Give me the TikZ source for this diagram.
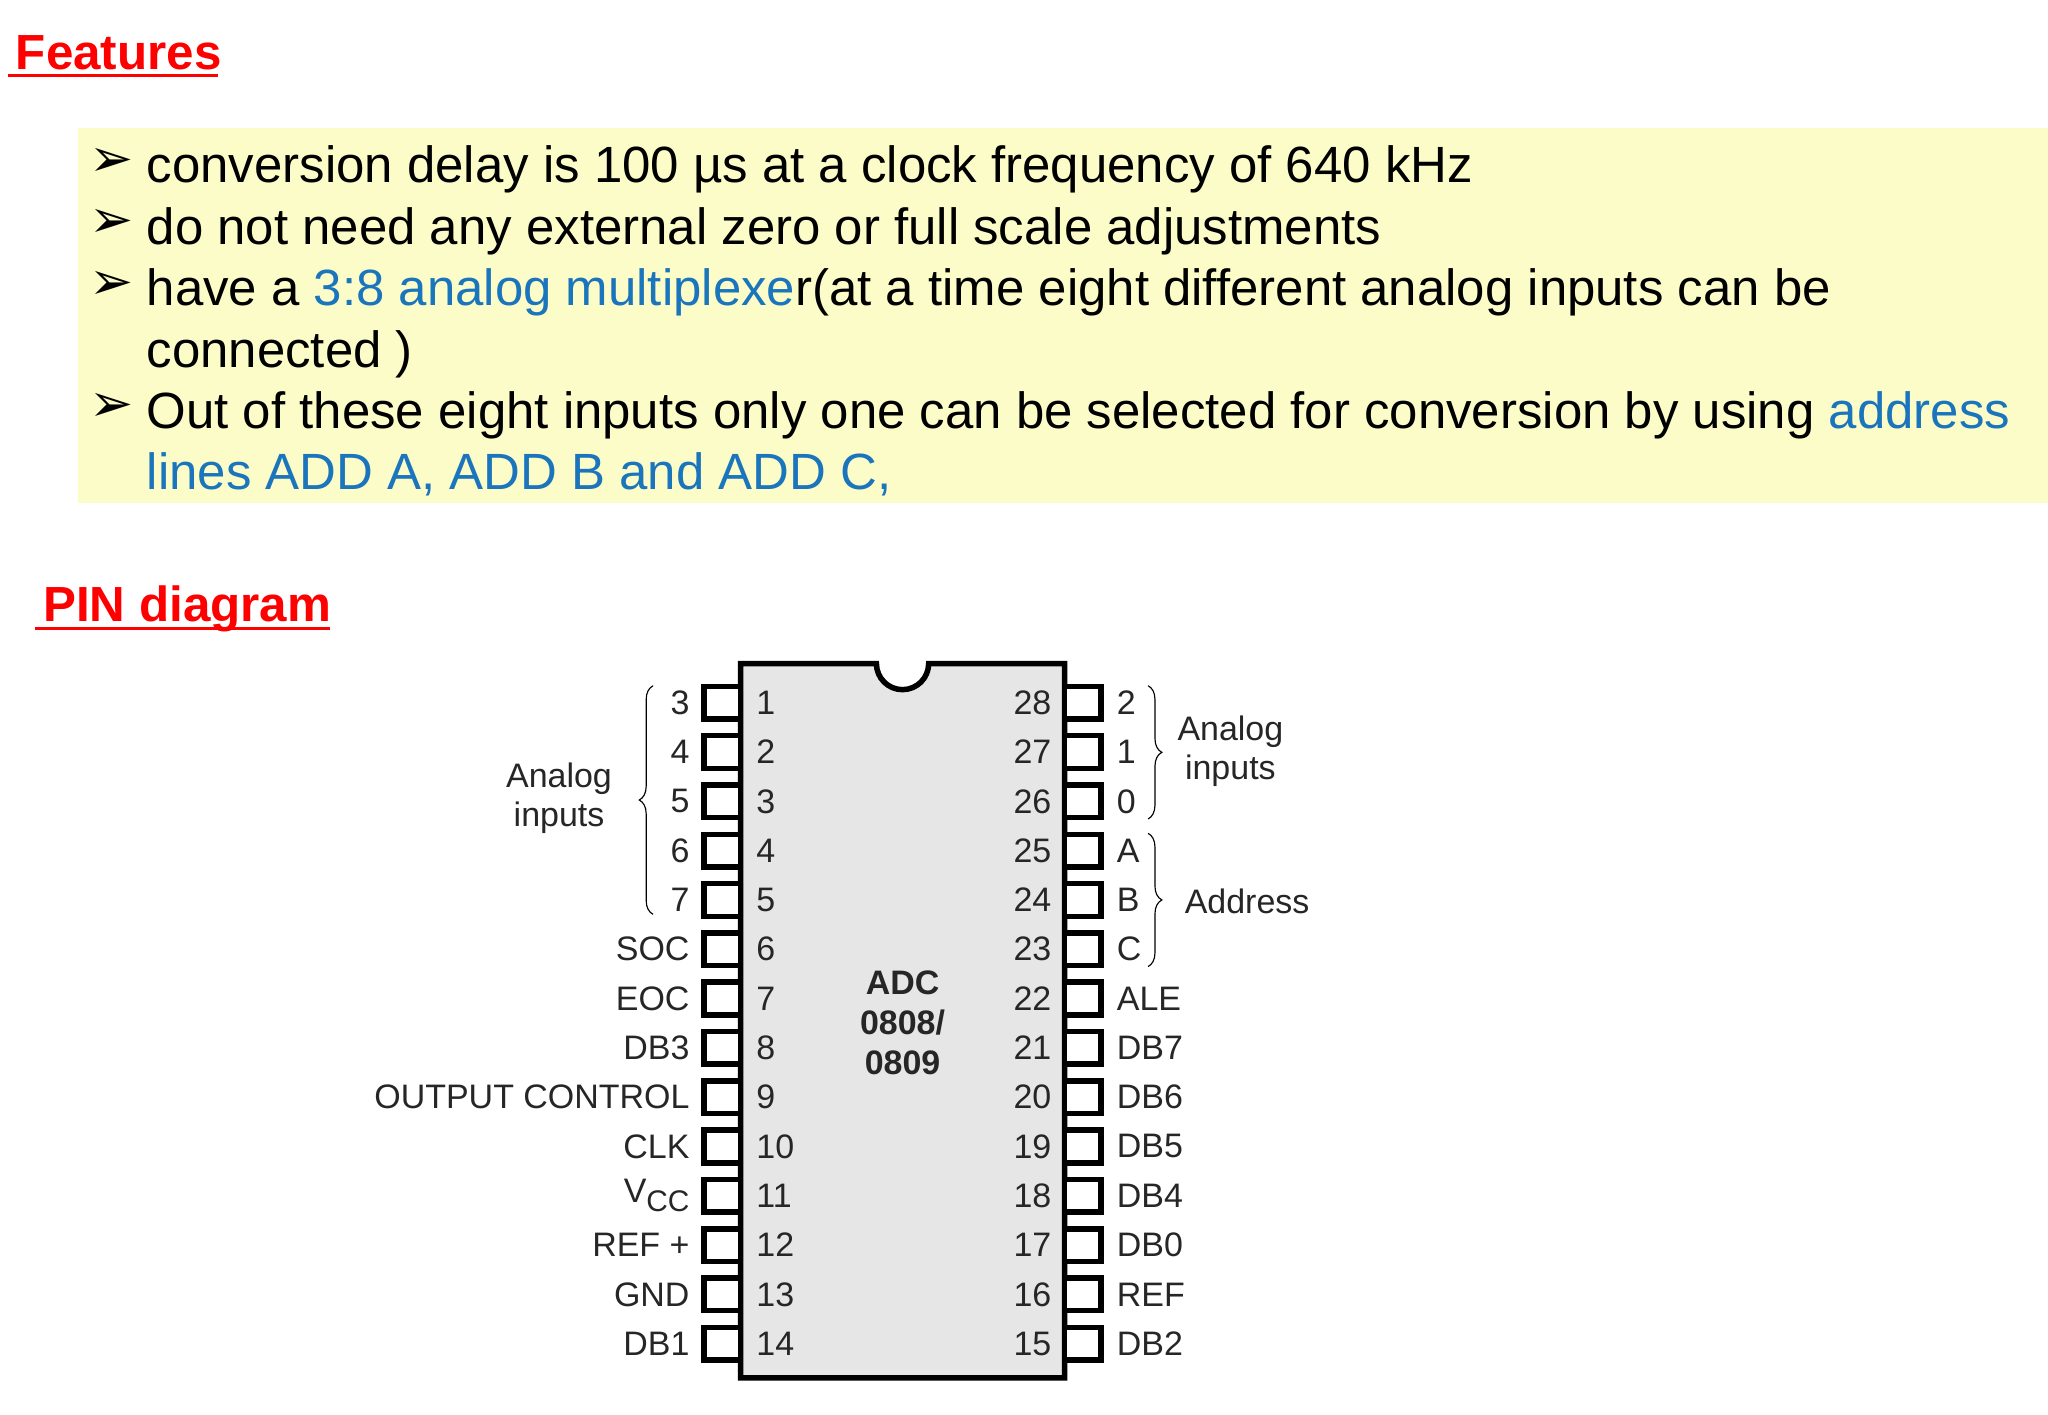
\documentclass[tikz,border=0pt]{standalone}
\usepackage{fontspec}
\setmainfont{Liberation Sans}
\newfontfamily\symfont{DejaVu Sans}
\usetikzlibrary{decorations.pathreplacing}
\definecolor{hiyellow}{HTML}{FCFCC8}
\definecolor{linkblue}{HTML}{1A75BC}
\definecolor{chipgray}{HTML}{E6E6E6}
\newcommand{\redul}[1]{\underline{#1}}
\tikzset{
  heading/.style={anchor=base west,text=red,font=\bfseries\fontsize{21.5}{25}\selectfont},
  bullet/.style={anchor=base west,font=\fontsize{22.2}{26}\selectfont,inner sep=0pt},
  pinbox/.style={draw,line width=2.4pt,fill=white,minimum width=0.56cm,minimum height=0.5cm,inner sep=0pt},
  pinlbl/.style={font=\fontsize{14.8}{17}\selectfont,inner sep=1pt,text=black!85},
  brace/.style={decorate,decoration={brace,amplitude=6pt},line width=0.5pt}
}
\begin{document}
\begin{tikzpicture}[x=0.02cm,y=-0.02cm]
\useasboundingbox (0,0) rectangle (1568,1083);
\fill[white] (0,0) rectangle (1568,1083);

% features
\node[heading] (feat) at (6,53) {Features};
\draw[red,line width=1.5pt] (feat.base west) ++(0,5) -- ++(161,0);
\fill[hiyellow] (60,98) rectangle (1568,385);
\foreach \y in {135,182,229,323}
  \node[anchor=base west,font=\symfont\fontsize{23}{26}\selectfont,inner sep=0pt] at (68,\y) {➢};
\node[bullet] (l1) at (112,140) {conversion delay is 100 µs at a clock frequency of 640 kHz};
\node[bullet] (l2) at (112,187) {do not need any external zero or full scale adjustments};
\node[bullet] (l3) at (112,234) {have a \textcolor{linkblue}{3:8 analog multiplexe}r(at a time eight different analog inputs can be};
\node[bullet] (l4) at (112,281) {connected )};
\node[bullet] (l5) at (112,328) {Out of these eight inputs only one can be selected for conversion by using \textcolor{linkblue}{address}};
\node[bullet,text=linkblue] (l6) at (112,375) {lines ADD A, ADD B and ADD C,};

% pin diagram
\node[heading] (pinhd) at (27,476) {PIN diagram};
\draw[red,line width=1.5pt] (pinhd.base west) ++(0,5) -- ++(226,0);
\draw[line width=2.4pt,fill=chipgray] (567,508) -- (671,508) arc[start angle=180,end angle=0,radius=20] -- (815,508) -- (815,1055) -- (567,1055) -- cycle;
\node[font=\bfseries\fontsize{14.8}{17.5}\selectfont,align=center,text=black!85] (chip) at (691,783) {ADC\\0808/\\0809};

\foreach \n/\l [count=\i] in {1/3,2/4,3/5,4/6,5/7,6/SOC,7/EOC,8/DB3,9/OUTPUT CONTROL,10/CLK,11/{V\raisebox{-0.5ex}{\fontsize{13}{13}\selectfont CC}},12/REF +,13/GND,14/DB1}{
  \pgfmathsetmacro\yy{538+(\i-1)*37.75}
  \node[pinbox] (L\n) at (553,\yy) {};
  \node[pinlbl,anchor=west] (LN\n) at (577,\yy) {\n};
  \node[pinlbl,anchor=east] (LT\n) at (530,\yy) {\l};
}
\foreach \n/\l [count=\i] in {28/2,27/1,26/0,25/A,24/B,23/C,22/ALE,21/DB7,20/DB6,19/DB5,18/DB4,17/DB0,16/REF,15/DB2}{
  \pgfmathsetmacro\yy{538+(\i-1)*37.75}
  \node[pinbox] (R\n) at (829,\yy) {};
  \node[pinlbl,anchor=east] (RN\n) at (807,\yy) {\n};
  \node[pinlbl,anchor=west] (RT\n) at (853,\yy) {\l};
}

% braces
\draw[brace] (500,700) -- (500,525);
\node[pinlbl,align=center] (ainl) at (428,611) {Analog\\inputs};
\draw[brace] (879,525) -- (879,627);
\node[pinlbl,align=center] (ainr) at (942,575) {Analog\\inputs};
\draw[brace] (879,638) -- (879,740);
\node[pinlbl,anchor=west] (addr) at (905,690) {Address};
\end{tikzpicture}
\end{document}
